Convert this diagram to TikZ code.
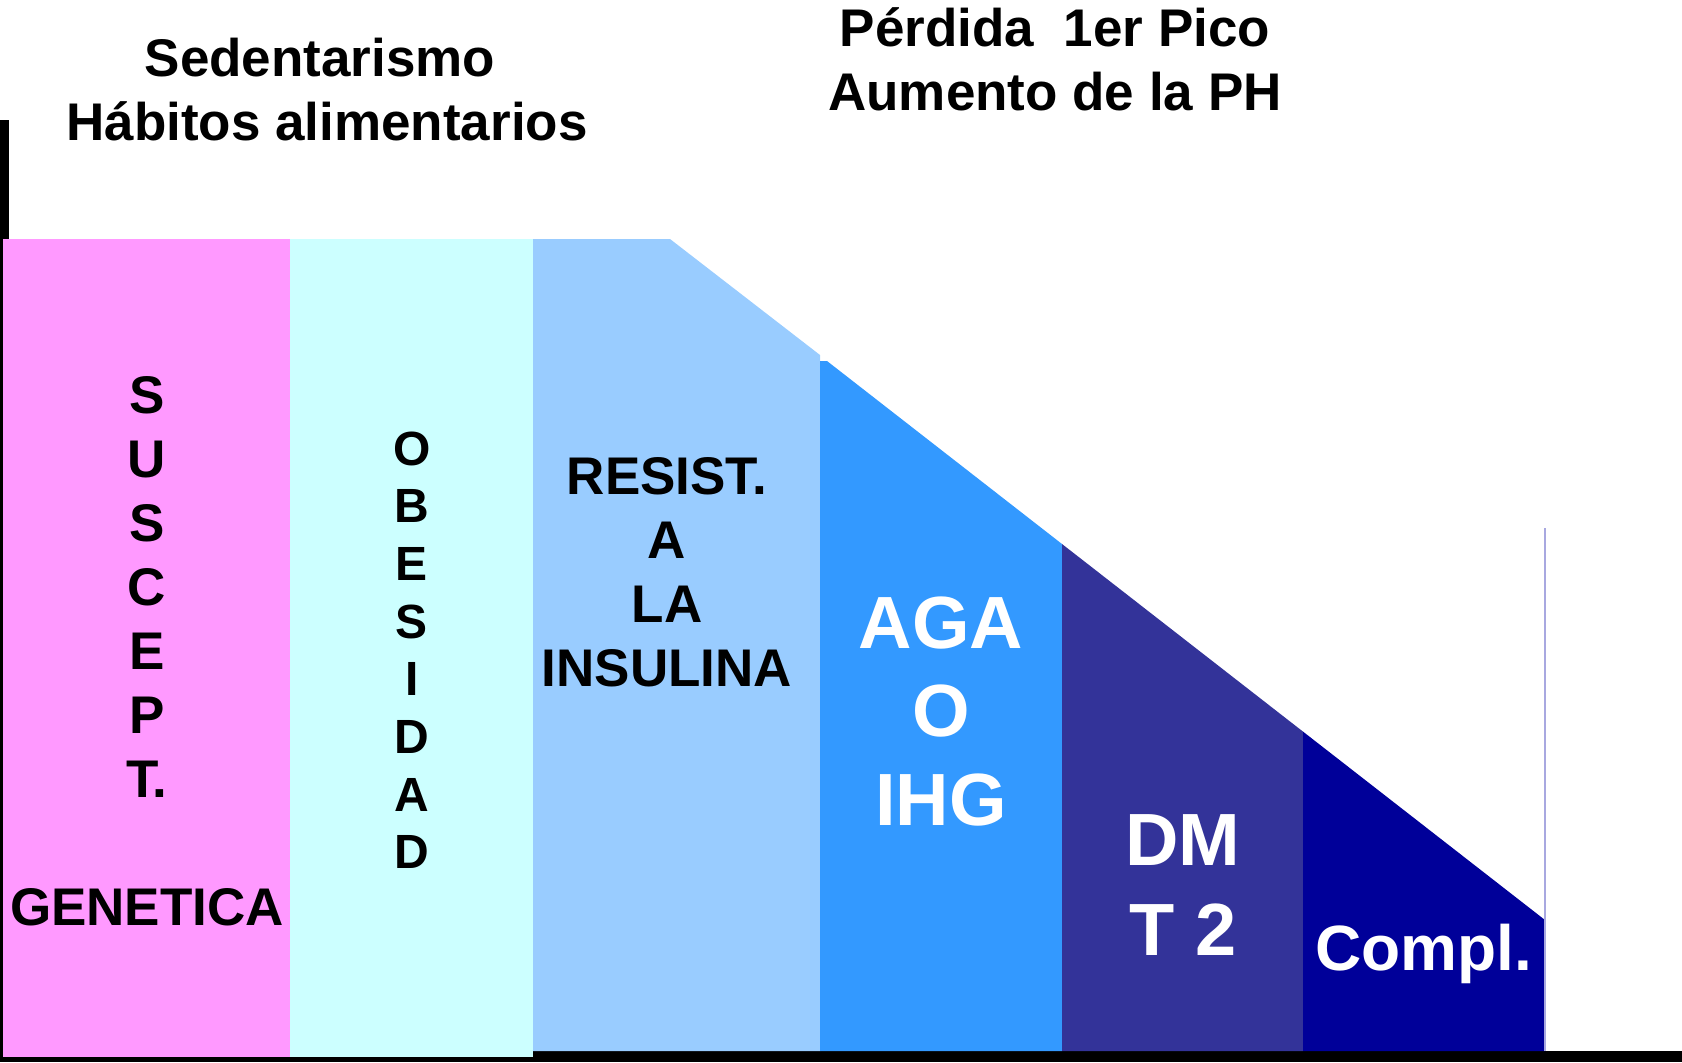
\documentclass[tikz,border=0pt]{standalone}
\usepackage{fontspec}
\setmainfont{Liberation Sans}
\definecolor{rosa}{HTML}{FF99FF}
\definecolor{celeste}{HTML}{CCFFFF}
\definecolor{azulclaro}{HTML}{99CCFF}
\definecolor{azul}{HTML}{3399FF}
\definecolor{morado}{HTML}{333399}
\definecolor{marino}{HTML}{000099}
\definecolor{lavanda}{HTML}{A8A8E0}

\begin{document}
\begin{tikzpicture}[
  x=0.5pt, y=-0.5pt,
  lbl/.style={inner sep=0pt, anchor=base, font=\bfseries\fontsize{26.5}{30}\selectfont},
  lblsmall/.style={lbl, font=\bfseries\fontsize{24}{28}\selectfont},
  lblbig/.style={lbl, text=white, font=\bfseries\fontsize{37}{42}\selectfont},
]
\useasboundingbox (0,0) rectangle (1682,1062);
% axes
\draw[line width=4.5pt] (4.5,120) -- (4.5,1062);
\draw[line width=5.5pt] (0,1056.5) -- (1682,1056.5);
% stages
\fill[rosa] (3,239) rectangle (290,1057);
\fill[celeste] (290,239) rectangle (533,1057);
\fill[azulclaro] (533,239) -- (670,239) -- (820,355) -- (820,1051) -- (533,1051) -- cycle;
\fill[azul] (820,361) -- (827,361) -- (1062,544) -- (1062,1051) -- (820,1051) -- cycle;
\fill[morado] (1062,544) -- (1303,731.6) -- (1303,1051) -- (1062,1051) -- cycle;
\fill[marino] (1303,731.6) -- (1545,920) -- (1545,1051) -- (1303,1051) -- cycle;
\draw[lavanda, line width=0.75pt] (1545,528) -- (1545,1051);

% titles
\node[lbl] (sedent) at (320,76) {Sedentarismo};
\node[lbl] (habitos) at (327,140) {Hábitos alimentarios};
\node[lbl] (perdida) at (1055,46) {Pérdida\ \ 1er Pico};
\node[lbl] (aumento) at (1055,110) {Aumento de la PH};

% column labels
\foreach \l [count=\i from 0] in {S,U,S,C,E,P,T.}
  \node[lbl] (susc-\i) at (147,413+64*\i) {\l};
\node[lbl] (genetica) at (147,925) {GENETICA};
\foreach \l [count=\i from 0] in {O,B,E,S,I,D,A,D}
  \node[lblsmall] (obes-\i) at (412,465+57.7*\i) {\l};
\foreach \l [count=\i from 0] in {RESIST.,A,LA,INSULINA}
  \node[lbl] (resist-\i) at (667,494+64*\i) {\l};
\foreach \l [count=\i from 0] in {AGA,O,IHG}
  \node[lblbig] (aga-\i) at (941,648+88.5*\i) {\l};
\node[lblbig] (dm) at (1183,865) {DM};
\node[lblbig] (t2) at (1183,955) {T 2};
\node[lbl, text=white, font=\bfseries\fontsize{32}{36}\selectfont] (compl) at (1424,970) {Compl.};
\end{tikzpicture}
\end{document}
